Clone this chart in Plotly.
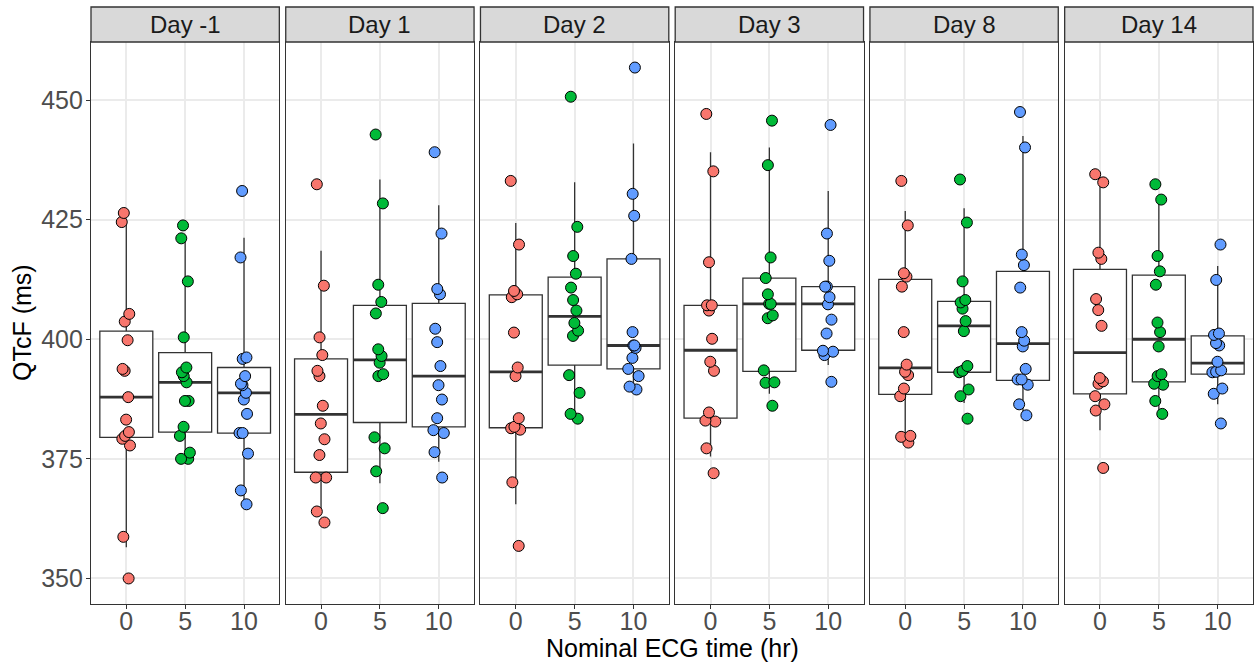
import plotly.graph_objects as go
from plotly.subplots import make_subplots

days = ["Day -1", "Day 1", "Day 2", "Day 3", "Day 8", "Day 14"]
time_labels = ["0", "5", "10"]
time_colors = ["#F8766D", "#00BA38", "#619CFF"]

# Individual QTcF values (ms) at each nominal ECG time, one list per study day
qtcf_0h = [
    [426.4, 424.5, 405.3, 403.7, 399.8, 393.8, 393.4, 387.9, 383.2, 380.6, 379.8, 379.2, 377.8, 358.7, 350.0],
    [432.4, 411.2, 400.4, 396.7, 393.4, 392.3, 386.1, 382.4, 379.1, 375.8, 371.1, 371.1, 364.0, 361.7],
    [433.1, 419.8, 410.1, 409.4, 408.8, 401.4, 394.1, 392.3, 383.5, 381.7, 381.4, 381.1, 370.1, 356.8],
    [447.1, 435.1, 416.1, 407.1, 407.1, 406.0, 400.1, 395.3, 393.4, 384.7, 383.0, 382.8, 377.2, 372.0],
    [433.1, 423.8, 413.8, 413.1, 411.0, 401.5, 394.7, 393.2, 392.5, 389.7, 388.1, 379.8, 379.6, 378.4],
    [434.5, 432.8, 418.1, 416.8, 408.4, 406.1, 402.8, 391.9, 391.2, 390.7, 388.1, 386.4, 385.1, 373.1],
]
qtcf_5h = [
    [423.8, 421.1, 412.1, 400.4, 394.1, 393.1, 392.3, 391.0, 387.1, 387.1, 381.7, 379.8, 376.3, 375.0, 375.0],
    [442.8, 428.4, 411.4, 407.8, 405.4, 397.9, 396.5, 395.1, 392.7, 392.3, 379.5, 377.2, 372.4, 364.7],
    [450.7, 423.5, 417.4, 413.7, 410.8, 408.2, 406.0, 403.4, 401.8, 400.7, 392.5, 388.8, 384.4, 383.4],
    [445.7, 436.4, 417.1, 412.8, 409.4, 407.4, 407.4, 405.0, 404.4, 393.5, 391.0, 390.9, 386.1],
    [433.4, 424.4, 412.1, 408.2, 407.7, 406.4, 403.8, 401.7, 394.4, 393.4, 393.1, 389.5, 388.1, 383.4],
    [432.4, 429.2, 417.4, 414.2, 411.4, 403.5, 401.5, 398.5, 392.7, 392.3, 390.7, 390.5, 387.1, 384.4],
]
qtcf_10h = [
    [431.0, 417.1, 396.2, 395.9, 392.3, 390.7, 390.4, 388.8, 387.4, 384.4, 380.4, 380.4, 376.1, 368.4, 365.5],
    [439.1, 422.1, 410.5, 409.4, 402.2, 399.4, 394.4, 390.4, 387.4, 383.5, 381.0, 380.4, 376.4, 371.1],
    [456.8, 430.4, 425.8, 416.8, 401.5, 398.7, 398.7, 398.2, 396.1, 393.8, 392.3, 390.1, 389.5],
    [444.8, 422.1, 416.4, 411.0, 411.0, 408.8, 407.3, 404.1, 401.2, 397.6, 397.4, 396.7, 391.1],
    [447.5, 440.1, 417.7, 415.5, 410.8, 401.5, 399.7, 398.5, 393.8, 391.6, 391.6, 390.5, 386.4, 384.1],
    [419.8, 412.4, 401.2, 400.9, 399.2, 398.7, 395.3, 393.5, 393.2, 393.1, 389.7, 388.6, 382.4],
]

# Box-plot summaries per day, ordered by time 0, 5, 10 h
box_q1 = [
    [379.5, 380.6, 380.4],
    [372.2, 382.6, 381.7],
    [381.5, 394.6, 393.8],
    [383.5, 393.3, 397.7],
    [388.5, 393.1, 391.4],
    [388.6, 391.1, 392.7],
]
box_median = [
    [387.9, 391.0, 388.8],
    [384.3, 395.7, 392.3],
    [393.2, 404.8, 398.7],
    [397.7, 407.4, 407.4],
    [394.0, 402.8, 399.1],
    [397.2, 400.0, 395.0],
]
box_q3 = [
    [401.7, 397.2, 394.1],
    [395.9, 407.1, 407.5],
    [409.3, 413.0, 416.8],
    [407.1, 412.8, 411.0],
    [412.5, 407.9, 414.2],
    [414.6, 413.4, 400.7],
]
whisker_low = [
    [356.5, 375.0, 366.2],
    [364.0, 369.9, 374.4],
    [365.5, 383.4, 389.5],
    [375.5, 388.6, 394.6],
    [378.4, 386.7, 384.1],
    [381.0, 384.4, 386.4],
]
whisker_high = [
    [424.5, 421.1, 421.2],
    [418.5, 433.4, 428.0],
    [424.3, 432.8, 440.9],
    [439.1, 440.1, 431.0],
    [426.8, 427.4, 442.5],
    [432.8, 429.2, 415.3],
]

series = [qtcf_0h, qtcf_5h, qtcf_10h]

FONT = "Liberation Sans, Arial, sans-serif"
EDGE = "#333333"
GRID = "#EBEBEB"

W, H = 1254, 664
M_L, M_R, M_T, M_B = 91, 1, 42, 60
plot_h = H - M_T - M_B
strip_h = 35

fig = make_subplots(rows=1, cols=6, shared_yaxes=True, horizontal_spacing=6.4 / (W - M_L - M_R))

for d, day in enumerate(days):
    col = d + 1
    # boxes with whiskers (white fill)
    for t in range(len(time_labels)):
        fig.add_trace(go.Box(
            x=[t], q1=[box_q1[d][t]], median=[box_median[d][t]], q3=[box_q3[d][t]],
            lowerfence=[whisker_low[d][t]], upperfence=[whisker_high[d][t]],
            orientation="v", width=0.9, whiskerwidth=0, boxpoints=False,
            fillcolor="white", line=dict(color=EDGE, width=1.3),
            showlegend=False, hoverinfo="skip"), row=1, col=col)
    # bold median bars
    for t in range(len(time_labels)):
        m = box_median[d][t]
        fig.add_trace(go.Box(
            x=[t], q1=[m], median=[m], q3=[m], lowerfence=[m], upperfence=[m],
            orientation="v", width=0.9, whiskerwidth=0, boxpoints=False,
            fillcolor="rgba(0,0,0,0)", line=dict(color=EDGE, width=2.8),
            showlegend=False, hoverinfo="skip"), row=1, col=col)
    # jittered individual values
    for t in range(len(time_labels)):
        vals = series[t][d]
        fig.add_trace(go.Box(
            x=[t] * len(vals), y=vals, orientation="v", width=0.9,
            boxpoints="all", jitter=0.25, pointpos=0, whiskerwidth=0,
            fillcolor="rgba(0,0,0,0)", line=dict(color="rgba(0,0,0,0)", width=0),
            marker=dict(color=time_colors[t], size=11, opacity=1,
                        line=dict(color="black", width=1)),
            showlegend=False, hoverinfo="y"), row=1, col=col)

    xref = "x domain" if col == 1 else f"x{col} domain"
    fig.add_shape(type="rect", xref=xref, yref="y domain",
                  x0=0, x1=1, y0=1, y1=1 + strip_h / plot_h,
                  fillcolor="#D9D9D9", line=dict(color=EDGE, width=1.3))
    fig.add_annotation(text=day, xref=xref, yref="y domain", x=0.5,
                       y=1 + (strip_h / 2) / plot_h, showarrow=False,
                       xanchor="center", yanchor="middle",
                       font=dict(family=FONT, size=24, color="#1A1A1A"))

all_vals = [v for s in series for day_vals in s for v in day_vals]
lo, hi = min(all_vals), max(all_vals)
pad = 0.05 * (hi - lo)

fig.update_xaxes(
    range=[-0.6, 2.6], tickvals=[0, 1, 2], ticktext=time_labels,
    showgrid=True, gridcolor=GRID, gridwidth=1.6, zeroline=False,
    showline=True, mirror=True, linecolor=EDGE, linewidth=1.3,
    ticks="outside", ticklen=4, tickwidth=1.2, tickcolor=EDGE,
    ticklabelstandoff=-9,
    tickfont=dict(family=FONT, size=25, color="#4D4D4D"), fixedrange=True)
fig.update_yaxes(
    range=[lo - pad, hi + pad], tick0=350, dtick=25,
    showgrid=True, gridcolor=GRID, gridwidth=1.6, zeroline=False,
    showline=True, mirror=True, linecolor=EDGE, linewidth=1.3,
    ticks="", fixedrange=True)
fig.update_yaxes(
    row=1, col=1, ticks="outside", ticklen=4, tickwidth=1.2, tickcolor=EDGE,
    ticklabelstandoff=-2,
    tickfont=dict(family=FONT, size=25, color="#4D4D4D"))

fig.add_annotation(text="Nominal ECG time (hr)", xref="paper", yref="paper",
                   x=0.5, y=-(648 - (H - M_B)) / plot_h, showarrow=False,
                   xanchor="center", yanchor="middle",
                   font=dict(family=FONT, size=25, color="black"))
fig.add_annotation(text="QTcF (ms)", xref="paper", yref="paper",
                   x=(22 - M_L) / (W - M_L - M_R), y=0.5, textangle=-90,
                   showarrow=False, xanchor="center", yanchor="middle",
                   font=dict(family=FONT, size=25, color="black"))

fig.update_layout(
    width=W, height=H, margin=dict(l=M_L, r=M_R, t=M_T, b=M_B),
    plot_bgcolor="white", paper_bgcolor="white", boxmode="overlay",
    showlegend=False, font=dict(family=FONT))

fig.write_html("out.html")
